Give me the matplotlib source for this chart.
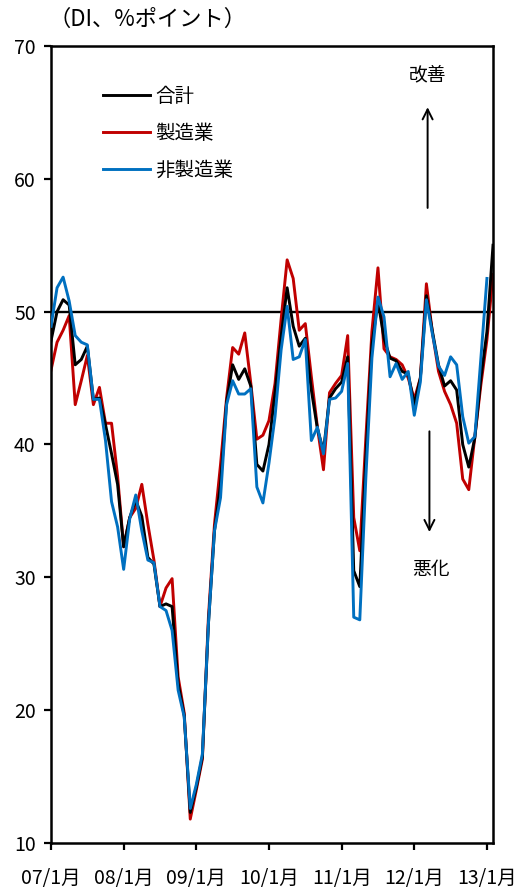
import numpy as np
import matplotlib
matplotlib.use("Agg")
from matplotlib import pyplot as plt

plt.rcParams['font.family'] = ['Noto Sans CJK JP', 'DejaVu Sans']

# 月次DI（2007年1月～2013年2月）
months = ["%02d/%d月" % (y, m) for y in range(7, 14) for m in range(1, 13)][:74]
tick_labels = ["07/1月", "08/1月", "09/1月", "10/1月", "11/1月", "12/1月", "13/1月"]

total = [47.8, 50.0, 50.9, 50.5, 46.0, 46.4, 47.4, 43.4, 43.5, 41.5, 39.3, 37.0,
         32.3, 34.5, 35.8, 34.6, 31.5, 31.0, 27.8, 28.0, 27.8, 22.0, 19.6, 12.3,
         14.2, 16.5, 26.5, 33.5, 37.0, 43.2, 46.0, 44.9, 45.7, 44.4, 38.5, 38.0,
         40.0, 43.9, 48.1, 51.8, 48.9, 47.4, 48.0, 44.1, 41.2, 39.5, 43.5, 44.2,
         44.7, 46.6, 30.5, 29.3, 39.0, 47.5, 50.8, 48.0, 46.5, 46.3, 45.5, 45.3,
         43.0, 45.0, 51.2, 48.5, 46.0, 44.4, 44.8, 44.1, 40.0, 38.3, 40.5, 45.0,
         48.5, 55.0]

manufacturing = [45.6, 47.7, 48.6, 49.7, 43.0, 44.8, 46.7, 43.0, 44.3, 41.6, 41.6, 37.6,
                 32.3, 34.5, 35.2, 37.0, 34.0, 31.3, 27.8, 29.2, 29.9, 22.5, 19.8, 11.8,
                 14.0, 16.3, 27.0, 34.0, 38.5, 43.5, 47.3, 46.8, 48.4, 44.6, 40.4, 40.7,
                 41.8, 44.6, 49.4, 53.9, 52.5, 48.6, 49.1, 45.1, 41.3, 38.1, 43.9, 44.6,
                 45.2, 48.2, 34.5, 32.0, 40.5, 48.5, 53.3, 47.2, 46.6, 46.4, 46.0, 45.0,
                 43.4, 45.0, 52.1, 48.4, 45.5, 44.0, 43.0, 41.6, 37.4, 36.6, 40.6, 44.5,
                 47.9, 52.8]

non_manufacturing = [48.9, 51.8, 52.6, 50.8, 48.2, 47.7, 47.5, 43.4, 43.4, 40.3, 35.7, 33.8,
                     30.6, 34.4, 36.2, 33.5, 31.3, 31.1, 27.8, 27.5, 26.0, 21.5, 19.5, 12.6,
                     14.4, 16.7, 26.5, 33.5, 36.0, 43.0, 44.8, 43.8, 43.8, 44.2, 36.8, 35.6,
                     38.6, 42.1, 47.1, 50.4, 46.4, 46.6, 47.9, 40.3, 41.3, 39.3, 43.4, 43.5,
                     44.0, 46.1, 27.0, 26.8, 37.5, 46.5, 51.1, 49.6, 45.1, 46.1, 44.9, 45.5,
                     42.2, 44.7, 50.9, 48.3, 45.9, 45.2, 46.6, 46.0, 42.1, 40.1, 40.6, 46.5,
                     52.5, np.nan]

x = np.arange(len(months))

fig = plt.figure(figsize=(5.17, 8.89), dpi=100)
ax = fig.add_axes([51 / 517, 46 / 889, 442 / 517, 797 / 889])

ax.axhline(50, color="black", lw=1.7, zorder=1)
ax.plot(x, total, color="black", lw=2.1, label="合計", zorder=3)
ax.plot(x, manufacturing, color="#c00000", lw=2.1, label="製造業", zorder=2)
ax.plot(x, non_manufacturing, color="#0070c0", lw=2.1, label="非製造業", zorder=4)

ax.set_xlim(0, 73)
ax.set_ylim(10, 70)
ax.set_yticks(range(10, 71, 10))
ax.set_xticks(range(0, 73, 12))
ax.set_xticklabels(tick_labels)
ax.tick_params(axis="both", direction="out", length=5, width=1.6,
               labelsize=14, colors="black")
ax.tick_params(axis="x", pad=13)
ax.tick_params(axis="y", pad=6)
for s in ax.spines.values():
    s.set_linewidth(1.8)
    s.set_color("black")

leg = ax.legend(loc="upper left", bbox_to_anchor=(0.118, 0.950), frameon=False,
                fontsize=14, handlelength=2.4, handletextpad=0.3,
                labelspacing=0.82, borderpad=0, borderaxespad=0)

# 改善／悪化の矢印
ax.annotate("", xy=(62.2, 65.6), xytext=(62.2, 57.6),
            arrowprops=dict(arrowstyle="->", lw=1.4, color="black",
                            mutation_scale=18))
ax.text(62.2, 67.8, "改善", ha="center", va="center", fontsize=13.5)
ax.annotate("", xy=(62.5, 33.2), xytext=(62.5, 41.2),
            arrowprops=dict(arrowstyle="->", lw=1.4, color="black",
                            mutation_scale=18))
ax.text(62.7, 30.6, "悪化", ha="center", va="center", fontsize=13.5)

fig.text(49 / 517, 1 - 19 / 889, "（DI、%ポイント）", ha="left", va="center",
         fontsize=16)

fig.savefig("out.png", dpi=100)
